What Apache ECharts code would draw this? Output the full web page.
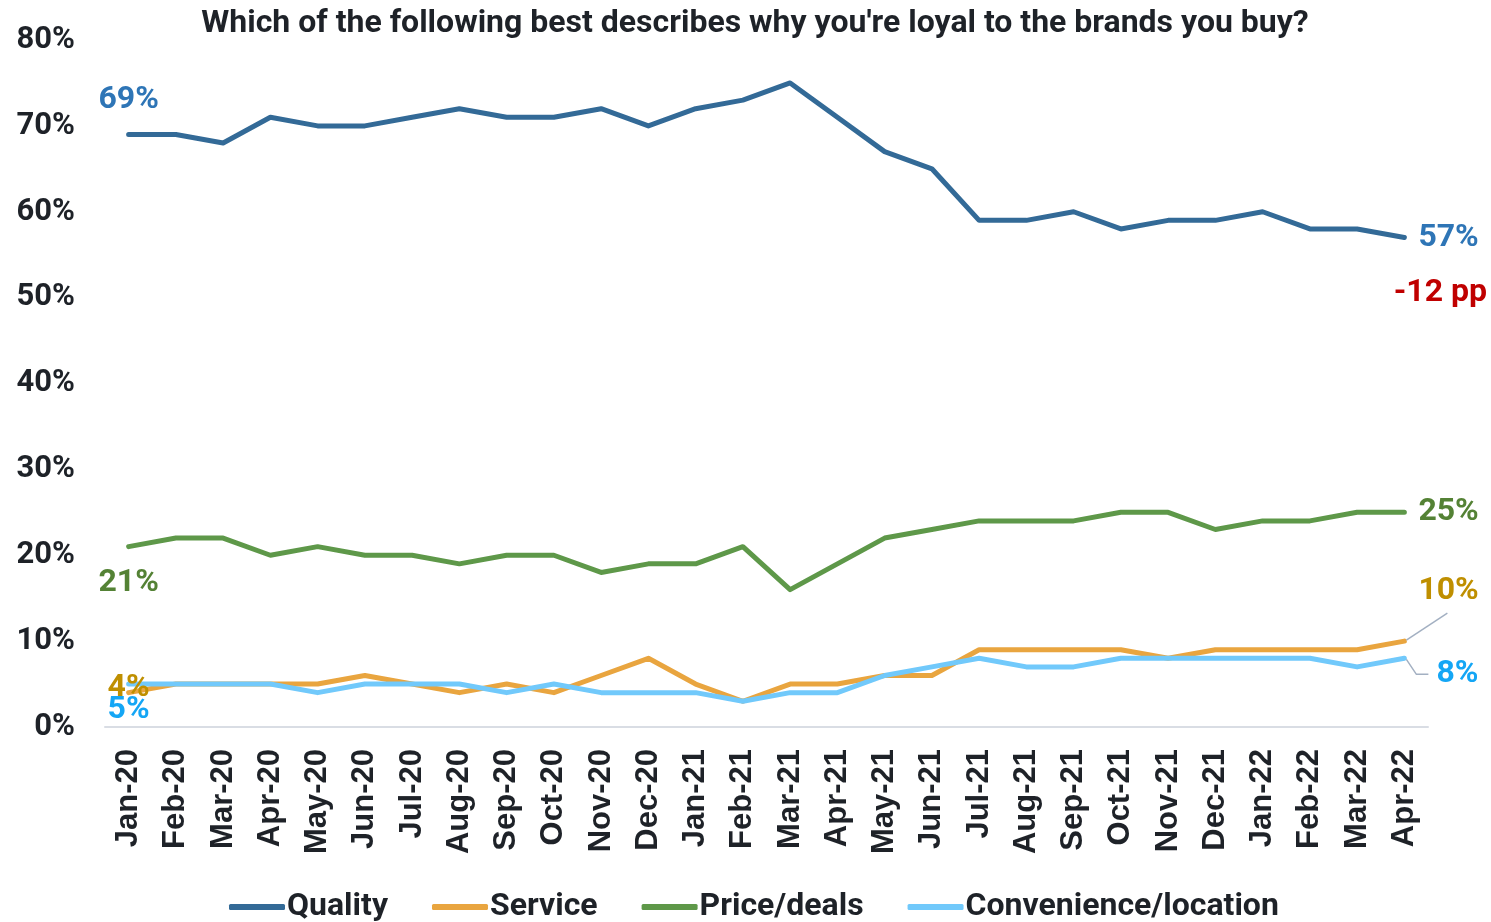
<!DOCTYPE html>
<html>
<head>
<meta charset="utf-8">
<title>Brand loyalty drivers</title>
<script src="https://cdn.jsdelivr.net/npm/echarts@6/dist/echarts.min.js"></script>
<style>
  html, body { margin: 0; padding: 0; background: #ffffff; }
  #chart { width: 1491px; height: 922px; }
</style>
</head>
<body>
<div id="chart"></div>
<script>
// Monthly survey: share of respondents by main reason for brand loyalty (%)
const months = ['Jan-20','Feb-20','Mar-20','Apr-20','May-20','Jun-20','Jul-20','Aug-20','Sep-20','Oct-20','Nov-20','Dec-20',
                'Jan-21','Feb-21','Mar-21','Apr-21','May-21','Jun-21','Jul-21','Aug-21','Sep-21','Oct-21','Nov-21','Dec-21',
                'Jan-22','Feb-22','Mar-22','Apr-22'];
const quality     = [69,69,68,71,70,70,71,72,71,71,72,70,72,73,75,71,67,65,59,59,60,58,59,59,60,58,58,57];
const service     = [4,5,5,5,5,6,5,4,5,4,6,8,5,3,5,5,6,6,9,9,9,9,8,9,9,9,9,10];
const priceDeals  = [21,22,22,20,21,20,20,19,20,20,18,19,19,21,16,19,22,23,24,24,24,25,25,23,24,24,25,25];
const convenience = [5,5,5,5,4,5,5,5,4,5,4,4,4,3,4,4,6,7,8,7,7,8,8,8,8,8,7,8];
const yMin = 0, yMax = 80, yStep = 10;

const FONT = 'Roboto';
const last = months.length - 1;
const GUIDE_COLOR = '#a3b0c2';

function valueLabel(color, extra) {
  return Object.assign({
    show: true,
    formatter: p => p.value + '%',
    color: color,
    fontFamily: FONT,
    fontWeight: 'bold',
    fontSize: 32
  }, extra);
}

// Attach labels to the first and last points only
function withEndLabels(values, firstLabel, lastLabel) {
  return values.map((v, i) => {
    if (i === 0 && firstLabel) return { value: v, label: firstLabel };
    if (i === last && lastLabel) return { value: v, label: lastLabel };
    return v;
  });
}

function lineSeries(name, values, color, firstLabel, lastLabel, extra) {
  return Object.assign({
    name: name,
    type: 'line',
    data: withEndLabels(values, firstLabel, lastLabel),
    showSymbol: true,
    showAllSymbol: true,
    symbol: 'circle',
    symbolSize: 0,
    itemStyle: { color: color },
    lineStyle: { color: color, width: 5, cap: 'round', join: 'round' },
    label: { show: false },
    emphasis: { disabled: true },
    silent: true,
    animation: false,
    z: 2
  }, extra || {});
}

const chart = echarts.init(document.getElementById('chart'), null, { renderer: 'canvas' });

const qualityChange = quality[last] - quality[0];

chart.setOption({
  backgroundColor: '#ffffff',
  animation: false,
  title: {
    text: "Which of the following best describes why you're loyal to the brands you buy?",
    left: 750,
    textAlign: 'center',
    top: 3,
    textStyle: { fontFamily: FONT, fontWeight: 'bold', fontSize: 32, color: '#1e2228' }
  },
  legend: {
    top: 886,
    left: 224,
    itemWidth: 56,
    itemHeight: 6,
    itemGap: 44,
    icon: 'roundRect',
    textStyle: { fontFamily: FONT, fontWeight: 'bold', fontSize: 32, color: '#1e2228', padding: [0, 0, 0, -3] },
    data: ['Quality', 'Service', 'Price/deals', 'Convenience/location']
  },
  grid: { left: 105, right: 63, top: 40, bottom: 195, containLabel: false },
  xAxis: {
    type: 'category',
    data: months,
    boundaryGap: true,
    axisLine: { lineStyle: { color: '#d9dde4', width: 2 } },
    axisTick: { show: false },
    axisLabel: {
      rotate: 90,
      margin: 22,
      interval: 0,
      fontFamily: 'Liberation Sans',
      fontWeight: 'bold',
      fontSize: 31,
      color: '#1e2228'
    },
    splitLine: { show: false }
  },
  yAxis: {
    type: 'value',
    min: yMin,
    max: yMax,
    interval: yStep,
    axisLine: { show: false },
    axisTick: { show: false },
    splitLine: { show: false },
    axisLabel: {
      formatter: '{value}%',
      margin: 30,
      fontFamily: FONT,
      fontWeight: 'bold',
      fontSize: 31,
      color: '#1e2228'
    }
  },
  series: [
    lineSeries('Quality', quality, '#336a97',
      valueLabel('#2e75b6', { position: 'top', distance: 18 }),
      valueLabel('#2e75b6', { position: 'right', distance: 14 }),
      {
        markPoint: {
          symbol: 'circle',
          symbolSize: 0,
          silent: true,
          animation: false,
          data: [{ coord: [months[last], quality[last]], value: qualityChange }],
          label: {
            show: true,
            position: 'bottom',
            distance: 39,
            offset: [36, 0],
            formatter: p => (p.value > 0 ? '+' : '') + p.value + ' pp',
            color: '#c00000',
            fontFamily: FONT,
            fontWeight: 'bold',
            fontSize: 32
          }
        }
      }),
    lineSeries('Service', service, '#e9a53f',
      valueLabel('#bf8f00', { position: 'inside', offset: [0, -5] }),
      valueLabel('#bf8f00', { position: 'right', distance: 14, offset: [0, -50] })),
    lineSeries('Price/deals', priceDeals, '#5e9849',
      valueLabel('#548235', { position: 'bottom', distance: 20 }),
      valueLabel('#548235', { position: 'right', distance: 14 })),
    lineSeries('Convenience/location', convenience, '#71c9fb',
      valueLabel('#14a6f5', { position: 'bottom', distance: 10 }),
      valueLabel('#14a6f5', { position: 'right', distance: 32, offset: [0, 16] }))
  ]
});

// Guide lines from the last Service / Convenience points out to their labels
const pS = chart.convertToPixel({ seriesIndex: 1 }, [last, service[last]]);
const pC = chart.convertToPixel({ seriesIndex: 3 }, [last, convenience[last]]);
chart.setOption({
  graphic: [
    {
      type: 'polyline', silent: true, z: 5,
      shape: { points: [[pS[0] + 2, pS[1] - 1], [pS[0] + 43, pS[1] - 28]] },
      style: { stroke: GUIDE_COLOR, lineWidth: 1.5, fill: null }
    },
    {
      type: 'polyline', silent: true, z: 5,
      shape: { points: [[pC[0] + 2, pC[1] + 1], [pC[0] + 12, pC[1] + 16], [pC[0] + 24, pC[1] + 16]] },
      style: { stroke: GUIDE_COLOR, lineWidth: 1.5, fill: null }
    }
  ]
});
</script>
</body>
</html>
